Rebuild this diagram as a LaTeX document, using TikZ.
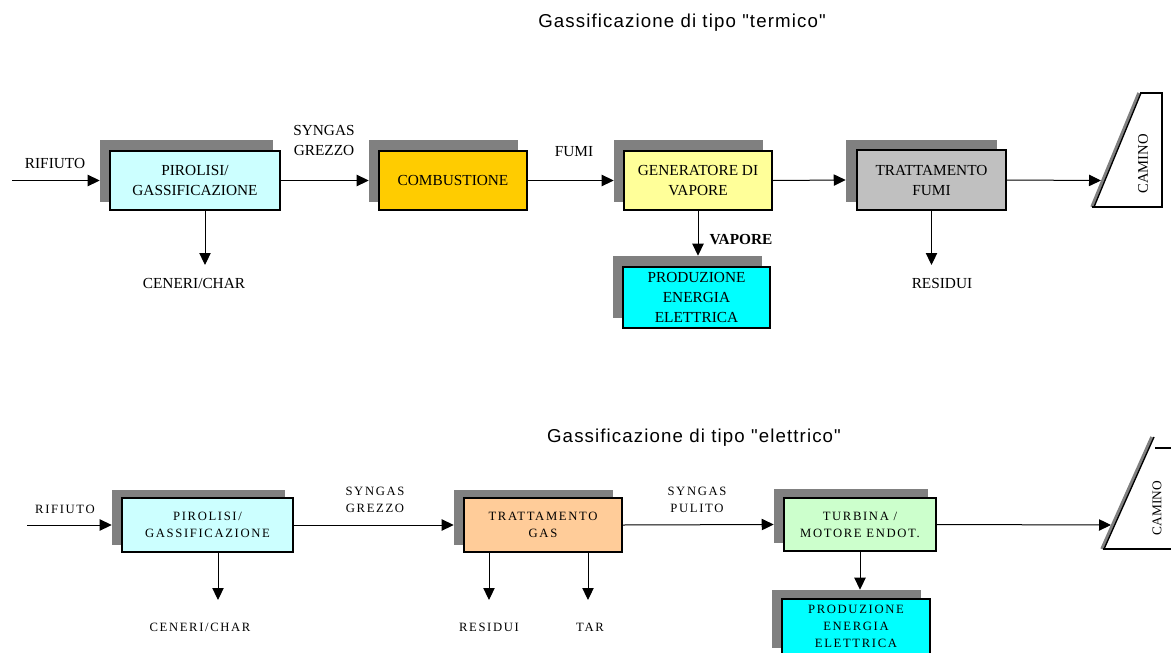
\documentclass[tikz,border=0pt]{standalone}
\usepackage{fontspec}
\setmainfont{Liberation Serif}
\newfontfamily\titlefont[LetterSpace=6]{Liberation Sans}
\newfontfamily\spfont[LetterSpace=13]{Liberation Serif}
\usetikzlibrary{arrows.meta}
\def\px{*0.75pt}
\definecolor{shadowgray}{HTML}{808080}
\definecolor{lcyan}{HTML}{CCFFFF}
\definecolor{comb}{HTML}{FFCC00}
\definecolor{gen}{HTML}{FFFF99}
\definecolor{tfumi}{HTML}{C0C0C0}
\definecolor{prod}{HTML}{00FFFF}
\definecolor{tgas}{HTML}{FFCC99}
\definecolor{turb}{HTML}{CCFFCC}
\tikzset{
  box/.style={draw=black, line width=1.5pt, align=center, inner sep=0pt, font=\fontsize{11.5}{15}\selectfont},
  boxB/.style={box, font=\spfont\fontsize{9.5}{12.75}\selectfont},
  shad/.style={fill=shadowgray, draw=none, inner sep=0pt},
  lab/.style={align=center, inner sep=0pt, font=\fontsize{11.5}{15}\selectfont},
  labB/.style={align=center, inner sep=0pt, font=\spfont\fontsize{9.5}{12.75}\selectfont},
  arr/.style={-{Triangle[length=9pt,width=8.5pt]}, line width=0.75pt},
  ttl/.style={inner sep=0pt, font=\titlefont\fontsize{14}{16}\selectfont},
}
\begin{document}
\begin{tikzpicture}[x=0.75pt, y=-0.75pt]
\useasboundingbox (0,0) rectangle (1171,653);
\clip (0,0) rectangle (1171,653);

% titles
\node[ttl] (t1) at (682,23) {Gassificazione di tipo "termico"};
\node[ttl] (t2) at (694,438) {Gassificazione di tipo "elettrico"};

% ---------- top row: shadows ----------
\node[shad, minimum width=173\px, minimum height=62\px] (p1s) at (186.5,171) {};
\node[shad, minimum width=149\px, minimum height=62\px] (p2s) at (443.5,171) {};
\node[shad, minimum width=149\px, minimum height=62\px] (p3s) at (688.5,171) {};
\node[shad, minimum width=149\px, minimum height=62\px] (p4s) at (687.5,287) {};
\node[shad, minimum width=151\px, minimum height=62\px] (p5s) at (921.5,171) {};
% top row: boxes
\node[box, fill=lcyan, minimum width=170\px, minimum height=59\px] (p1) at (195,180.5) {PIROLISI/\\GASSIFICAZIONE};
\node[box, fill=comb, minimum width=148\px, minimum height=59\px] (p2) at (453,180.5) {COMBUSTIONE};
\node[box, fill=gen, minimum width=148\px, minimum height=59\px] (p3) at (698,180.5) {GENERATORE DI\\VAPORE};
\node[box, fill=prod, minimum width=147\px, minimum height=61\px] (p4) at (696.5,297.5) {PRODUZIONE\\ENERGIA\\ELETTRICA};
\node[box, fill=tfumi, minimum width=149\px, minimum height=60\px] (p5) at (931.5,180) {TRATTAMENTO\\FUMI};

% top row labels
\node[lab] (l1) at (55,163) {RIFIUTO};
\node[lab] (l2) at (324,140) {SYNGAS\\GREZZO};
\node[lab] (l3) at (574,152) {FUMI};
\node[lab, font=\bfseries\fontsize{11.5}{15}\selectfont] (l4) at (741,240) {VAPORE};
\node[lab] (l5) at (194,283) {CENERI/CHAR};
\node[lab] (l6) at (942,283) {RESIDUI};

% top row coordinates
\coordinate (in1) at (12,180.5);
\coordinate (c1) at (205,265);
\coordinate (r1) at (931.5,265);
\coordinate (k1) at (1101,180.5);

% top row arrows
\draw[arr] (in1) -- (p1.west -| p1s.west);
\draw[arr] (p1.east) -- (p2.west -| p2s.west);
\draw[arr] (p2.east) -- (p3.west -| p3s.west);
\draw[arr] (p3.east) -- (p5.west -| p5s.west);
\draw[arr] (p5.east) -- (k1);
\draw[arr] (p1.south -| c1) -- (c1);
\draw[arr] (p3.south) -- (p3.south |- p4s.north);
\draw[arr] (p5.south) -- (r1);

% camino 1
\draw[shadowgray, line width=2.6pt] (1092,207) -- (1139,93);
\draw[black, line width=1pt] (1094,207) -- (1141,93);
\draw[black, line width=1.5pt] (1140,92.5) -- (1162,92.5) -- (1162,207) -- (1092,207);
\node[inner sep=0pt, rotate=90, font=\fontsize{11}{13}\selectfont] (cam1) at (1143,164) {CAMINO};

% ---------- bottom row: shadows ----------
\node[shad, minimum width=173\px, minimum height=55\px] (p6s) at (198.5,517.5) {};
\node[shad, minimum width=159\px, minimum height=55\px] (p7s) at (533.5,517.5) {};
\node[shad, minimum width=154\px, minimum height=54\px] (p8s) at (851,516) {};
\node[shad, minimum width=149\px, minimum height=58\px] (p9s) at (846.5,619) {};
% bottom row: boxes
\node[boxB, fill=lcyan, minimum width=171\px, minimum height=54\px] (p6) at (207.5,525) {PIROLISI/\\GASSIFICAZIONE};
\node[boxB, fill=tgas, minimum width=158\px, minimum height=54\px] (p7) at (543,525) {TRATTAMENTO\\GAS};
\node[boxB, fill=turb, minimum width=152\px, minimum height=53\px] (p8) at (860,524.5) {TURBINA /\\MOTORE ENDOT.};
\node[boxB, fill=prod, minimum width=148\px, minimum height=60\px, anchor=north] (p9) at (856,598) {};
\node[labB] (p9t) at (856,626.5) {PRODUZIONE\\ENERGIA\\ELETTRICA};

% bottom row labels
\node[labB] (m1) at (65,509) {RIFIUTO};
\node[labB] (m2) at (375,499.5) {SYNGAS\\GREZZO};
\node[labB] (m3) at (697,499.5) {SYNGAS\\PULITO};
\node[labB] (m4) at (200,627) {CENERI/CHAR};
\node[labB] (m5) at (489,627) {RESIDUI};
\node[labB] (m6) at (590,627) {TAR};

% bottom coordinates
\coordinate (in2) at (27,525);
\coordinate (c2) at (218,600);
\coordinate (r2) at (489,600);
\coordinate (tr) at (588,600);
\coordinate (k2) at (1111,525);

% bottom arrows
\draw[arr] (in2) -- (p6.west -| p6s.west);
\draw[arr] (p6.east) -- (p7.west -| p7s.west);
\draw[arr] (p7.east) -- (p8.west -| p8s.west);
\draw[arr] (p8.east) -- (k2);
\draw[arr] (p6.south -| c2) -- (c2);
\draw[arr] (p7.south -| r2) -- (r2);
\draw[arr] (p7.south -| tr) -- (tr);
\draw[arr] (p8.south) -- (p8.south |- p9s.north);

% camino 2
\draw[shadowgray, line width=2.6pt] (1102,549) -- (1152,437);
\draw[black, line width=1pt] (1104,549) -- (1154,437);
\draw[black, line width=1.5pt] (1155,448) -- (1171,448);
\draw[black, line width=1.5pt] (1103,549) -- (1171,549);
\node[inner sep=0pt, rotate=90, font=\fontsize{10}{12}\selectfont] (cam2) at (1157,508) {CAMINO};
\end{tikzpicture}
\end{document}
